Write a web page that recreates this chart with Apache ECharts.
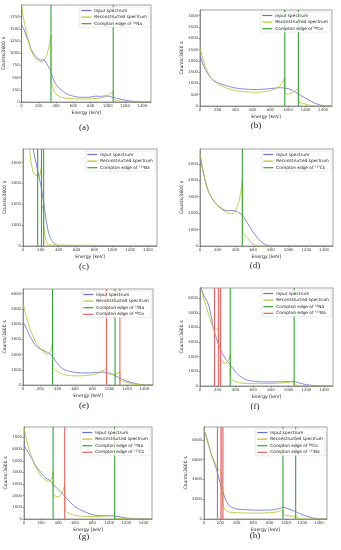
<!DOCTYPE html>
<html>
<head>
<meta charset="utf-8">
<script src="https://cdn.jsdelivr.net/npm/echarts@6/dist/echarts.min.js"></script>
<style>
html, body { margin: 0; padding: 0; background: #fff; }
#main { width: 341px; height: 550px; }
</style>
</head>
<body>
<div id="main"></div>
<script>
// edge energies (keV)
var edgesNa = [341, 1062];
var edgesCo = [963, 1118];
var edgesBa = [164, 207, 231];
var edgesCs = [477];

// (a) 22Na
var aInput = [[0,1580],[20,1520],[40,1440],[60,1330],[80,1250],[95,1180],[110,1080],[125,1040],[140,1000],[160,950],[180,900],[200,880],[220,860],[240,890],[260,870],[280,840],[300,760],[320,700],[341,620],[360,500],[390,380],[420,310],[460,250],[500,190],[540,150],[580,130],[620,110],[660,100],[700,95],[740,100],[780,95],[820,110],[860,120],[900,115],[940,120],[980,125],[1020,115],[1060,95],[1100,80],[1140,60],[1180,45],[1220,30],[1260,20],[1300,12],[1340,6],[1380,2],[1420,0],[1500,0]];
var aRecon = [[0,2000],[15,1800],[30,1650],[50,1480],[70,1330],[90,1180],[110,1060],[130,980],[150,920],[170,880],[190,850],[210,830],[230,820],[250,830],[270,870],[290,940],[310,1080],[325,1220],[341,1370],[343,420],[360,300],[380,220],[400,160],[440,110],[500,80],[600,65],[700,60],[800,65],[900,80],[960,100],[1000,130],[1030,170],[1060,230],[1064,60],[1100,30],[1150,15],[1200,5],[1300,0],[1500,0]];

// (b) 60Co
var bInput = [[0,2220],[20,2000],[40,1800],[60,1620],[80,1480],[100,1360],[130,1220],[160,1120],[200,1040],[250,960],[300,900],[350,850],[400,800],[450,770],[500,750],[550,740],[600,730],[650,730],[700,740],[750,750],[800,770],[850,790],[900,810],[950,800],[1000,770],[1050,700],[1100,580],[1150,460],[1200,340],[1250,230],[1300,130],[1350,55],[1400,10],[1450,0],[1500,0]];
var bRecon = [[0,2550],[20,2250],[40,1980],[60,1750],[80,1560],[100,1400],[130,1220],[160,1100],[200,990],[250,880],[300,800],[350,740],[400,690],[450,650],[500,630],[550,615],[600,610],[650,610],[700,620],[750,640],[800,680],[850,750],[900,860],[940,1060],[963,1270],[966,560],[990,520],[1020,540],[1060,600],[1090,680],[1118,790],[1121,180],[1150,140],[1200,80],[1250,30],[1300,5],[1350,0],[1500,0]];

// (c) 133Ba
var cInput = [[0,9000],[60,7000],[100,5200],[120,4500],[150,3900],[180,3300],[200,2900],[220,2400],[240,1800],[260,1200],[280,750],[300,450],[320,280],[340,170],[360,90],[380,30],[400,5],[420,0],[1500,0]];
var cRecon = [[0,9000],[40,6500],[70,4700],[90,4000],[110,3600],[130,3450],[150,3350],[164,3450],[180,3300],[195,3500],[207,3850],[209,2000],[220,1800],[231,1700],[233,900],[245,500],[260,200],[280,50],[300,0],[1500,0]];

// (d) 137Cs
var dInput = [[0,5500],[20,4900],[40,4400],[60,3950],[80,3550],[100,3250],[130,2950],[160,2700],[200,2450],[240,2300],[270,2200],[300,2150],[320,2200],[340,2150],[360,2200],[380,2150],[400,2150],[420,2100],[450,2000],[477,1850],[500,1700],[530,1450],[560,1180],[590,900],[620,680],[650,480],[680,310],[710,180],[740,80],[770,20],[800,0],[1500,0]];
var dRecon = [[0,5600],[20,5000],[40,4450],[60,3950],[80,3550],[100,3250],[130,2950],[160,2700],[200,2450],[240,2250],[280,2100],[320,2000],[350,1950],[380,2000],[410,2250],[440,2700],[460,3250],[477,4000],[480,800],[500,700],[530,520],[560,330],[590,160],[620,50],[650,0],[1500,0]];

// (e) 22Na + 60Co
var eInput = [[0,4100],[20,3950],[40,3700],[60,3450],[80,3200],[100,3000],[130,2700],[160,2500],[200,2350],[240,2250],[280,2150],[320,2000],[350,1800],[380,1550],[420,1250],[460,1050],[500,950],[550,870],[600,830],[650,800],[700,790],[750,790],[800,800],[850,830],[900,850],[950,830],[1000,770],[1050,650],[1100,500],[1150,370],[1200,260],[1250,170],[1300,90],[1350,35],[1400,5],[1450,0],[1500,0]];
var eRecon = [[0,5400],[20,4900],[40,4450],[60,4050],[80,3700],[100,3400],[130,3000],[160,2700],[200,2400],[240,2150],[280,2000],[300,1980],[320,2200],[341,2900],[343,1150],[380,950],[420,800],[460,700],[500,640],[550,610],[600,600],[650,600],[700,610],[750,630],[800,670],[850,740],[900,850],[940,1000],[963,1150],[966,780],[1000,720],[1030,700],[1062,720],[1065,650],[1090,750],[1118,880],[1121,300],[1150,250],[1200,170],[1250,90],[1300,40],[1350,10],[1400,0],[1500,0]];

// (f) 22Na + 133Ba
var fInput = [[0,7000],[20,6550],[50,6100],[80,5800],[100,5500],[125,4800],[150,4000],[175,3450],[205,2900],[235,2450],[262,2100],[300,1750],[340,1440],[380,1130],[414,870],[450,680],[490,520],[530,410],[580,340],[640,300],[700,280],[800,280],[900,290],[1000,300],[1062,310],[1100,240],[1150,160],[1200,90],[1250,45],[1300,18],[1350,5],[1400,0],[1500,0]];
var fRecon = [[0,7200],[20,6500],[40,6000],[60,5650],[80,5250],[100,4800],[130,4250],[150,4050],[164,3950],[180,3850],[195,3900],[207,4000],[209,3000],[220,2700],[231,2500],[233,1800],[260,1600],[290,1550],[315,1700],[330,1900],[341,2150],[343,550],[370,400],[400,300],[450,220],[500,180],[600,160],[700,160],[800,170],[900,200],[1000,250],[1040,320],[1062,400],[1065,80],[1100,50],[1150,30],[1200,10],[1300,0],[1500,0]];

// (g) 22Na + 137Cs
var gInput = [[0,6300],[25,6000],[50,5700],[75,5400],[100,5130],[130,4650],[160,4350],[200,3980],[250,3540],[300,3340],[341,2970],[400,2540],[440,2250],[477,1960],[515,1650],[550,1380],[600,1040],[650,830],[700,660],[750,500],[800,370],[850,310],[900,290],[1000,280],[1062,260],[1100,220],[1150,150],[1200,90],[1250,50],[1300,20],[1350,5],[1400,0],[1500,0]];
var gRecon = [[0,7800],[20,7100],[40,6500],[60,6000],[80,5500],[100,5100],[130,4600],[160,4150],[200,3700],[240,3400],[280,3250],[310,3300],[330,3600],[341,4050],[343,2050],[370,1950],[400,1900],[430,2050],[455,2400],[477,2900],[479,750],[510,550],[550,400],[600,300],[700,230],[800,210],[900,230],[1000,280],[1040,340],[1062,420],[1065,100],[1100,60],[1150,30],[1200,10],[1300,0],[1500,0]];

// (h) 60Co + 133Ba
var hInput = [[0,9000],[25,8400],[50,7700],[75,7000],[100,6260],[125,5700],[150,5090],[175,4300],[200,3580],[225,2900],[250,2240],[275,1750],[300,1400],[325,1250],[350,1140],[400,1000],[500,940],[600,900],[700,890],[800,900],[860,950],[920,1050],[963,1200],[1000,1120],[1050,960],[1100,800],[1150,620],[1200,420],[1250,280],[1300,170],[1350,70],[1400,10],[1450,0],[1500,0]];
var hRecon = [[0,9100],[25,8400],[50,7600],[75,6900],[100,6300],[125,5800],[150,5400],[164,5150],[185,4950],[207,4850],[220,4800],[231,4850],[233,1300],[250,1000],[275,780],[300,700],[400,640],[500,600],[600,590],[700,600],[800,640],[880,700],[930,800],[963,900],[966,400],[1000,350],[1060,300],[1118,250],[1121,80],[1160,40],[1200,10],[1300,0],[1500,0]];

var BLUE = '#6570d8';
var YELLOW = '#b3c426';
var GREEN = '#3aa23a';
var RED = '#e36464';

// one entry per subplot
var panels = [
    { tag: '(a)', rect: [19, 5, 132, 97],  ymax: 1990, yint: 250,  input: aInput, recon: aRecon,
      edges: [{ name: 'Compton edge of \u00b2\u00b2Na', color: GREEN, values: edgesNa }], cap: [84, 128] },
    { tag: '(b)', rect: [200, 10, 132, 96], ymax: 4250, yint: 500,  input: bInput, recon: bRecon,
      edges: [{ name: 'Compton edge of \u2076\u2070Co', color: GREEN, values: edgesCo }], cap: [256, 126] },
    { tag: '(c)', rect: [23, 149, 134, 97], ymax: 4650, yint: 1000, input: cInput, recon: cRecon,
      edges: [{ name: 'Compton edge of \u00b9\u00b3\u00b3Ba', color: GREEN, values: edgesBa }], cap: [84, 267] },
    { tag: '(d)', rect: [200, 149, 133, 97], ymax: 5900, yint: 1000, input: dInput, recon: dRecon,
      edges: [{ name: 'Compton edge of \u00b9\u00b3\u2077Cs', color: GREEN, values: edgesCs }], cap: [255, 266] },
    { tag: '(e)', rect: [23, 289, 130, 96], ymax: 6300, yint: 1000, input: eInput, recon: eRecon,
      edges: [{ name: 'Compton edge of \u00b2\u00b2Na', color: GREEN, values: edgesNa },
              { name: 'Compton edge of \u2076\u2070Co', color: RED, values: edgesCo }], cap: [84, 406] },
    { tag: '(f)', rect: [200, 288, 133, 98], ymax: 6700, yint: 1000, input: fInput, recon: fRecon,
      edges: [{ name: 'Compton edge of \u00b2\u00b2Na', color: GREEN, values: edgesNa },
              { name: 'Compton edge of \u00b9\u00b3\u00b3Ba', color: RED, values: edgesBa }], cap: [255, 407] },
    { tag: '(g)', rect: [24, 427, 128, 92], ymax: 7900, yint: 1000, input: gInput, recon: gRecon,
      edges: [{ name: 'Compton edge of \u00b2\u00b2Na', color: GREEN, values: edgesNa },
              { name: 'Compton edge of \u00b9\u00b3\u2077Cs', color: RED, values: edgesCs }], cap: [84, 537] },
    { tag: '(h)', rect: [204, 427, 123, 92], ymax: 9300, yint: 2000, input: hInput, recon: hRecon,
      edges: [{ name: 'Compton edge of \u2076\u2070Co', color: GREEN, values: edgesCo },
              { name: 'Compton edge of \u00b9\u00b3\u00b3Ba', color: RED, values: edgesBa, band: true }], cap: [255, 536] }
];

// plain numbers, no thousands separator
function plainLabel(v) {
    return String(v);
}

var grids = [], xAxes = [], yAxes = [], series = [], legends = [], graphics = [];

panels.forEach(function(p, i) {
    var r = p.rect;
    grids.push({ left: r[0], top: r[1], width: r[2], height: r[3], show: true,
                 borderColor: '#444', borderWidth: 0.5, backgroundColor: '#fff' });

    xAxes.push({
        gridIndex: i, type: 'value', min: 0, max: 1500, interval: 200,
        name: 'Energy [keV]', nameLocation: 'middle', nameGap: 8,
        nameTextStyle: { fontSize: 4.6, color: '#222', fontFamily: 'DejaVu Sans' },
        axisLine: { lineStyle: { color: '#444', width: 0.5 } },
        axisTick: { length: 1.5, lineStyle: { width: 0.5 } },
        axisLabel: { fontSize: 3.8, margin: 2, color: '#333', showMaxLabel: false,
                     fontFamily: 'DejaVu Sans', formatter: plainLabel },
        splitLine: { show: false }
    });
    yAxes.push({
        gridIndex: i, type: 'value', min: 0, max: p.ymax, interval: p.yint,
        name: 'Counts/3600 s', nameLocation: 'middle', nameGap: 12,
        nameTextStyle: { fontSize: 4.6, color: '#222', fontFamily: 'DejaVu Sans' },
        axisLine: { lineStyle: { color: '#444', width: 0.5 } },
        axisTick: { show: true, length: 1.5, lineStyle: { width: 0.5 } },
        axisLabel: { fontSize: 3.8, margin: 2, color: '#333', showMaxLabel: false,
                     fontFamily: 'DejaVu Sans', formatter: plainLabel },
        splitLine: { show: false }
    });

    series.push({ name: 'Input spectrum', type: 'line', xAxisIndex: i, yAxisIndex: i,
                  data: p.input, showSymbol: false, color: BLUE,
                  lineStyle: { width: 0.8, color: BLUE }, z: 2 });
    series.push({ name: 'Reconstructed spectrum', type: 'line', xAxisIndex: i, yAxisIndex: i,
                  data: p.recon, showSymbol: false, color: YELLOW,
                  lineStyle: { width: 0.8, color: YELLOW }, z: 3 });

    var legendData = [
        { name: 'Input spectrum', itemStyle: { color: BLUE } },
        { name: 'Reconstructed spectrum', itemStyle: { color: YELLOW } }
    ];
    p.edges.forEach(function(e) {
        // one vertical line series per edge, spanning the full y range
        e.values.forEach(function(v, k) {
            var s = {
                name: e.name, type: 'line', xAxisIndex: i, yAxisIndex: i,
                data: [[v, 0], [v, p.ymax]], showSymbol: false, color: e.color,
                lineStyle: { color: e.color, width: 1.1 }, z: 4
            };
            if (e.band && k == 0) {
                // pale band between the two upper Ba edges
                s.markArea = { silent: true, itemStyle: { color: 'rgba(235,110,110,0.3)' },
                               data: [[{ xAxis: e.values[1] }, { xAxis: e.values[2] }]] };
            }
            series.push(s);
        });
        legendData.push({ name: e.name, itemStyle: { color: e.color } });
    });

    legends.push({
        data: legendData, orient: 'vertical', right: 341 - (r[0] + r[2]) + 2, top: r[1] + 2,
        icon: 'rect', itemWidth: 10, itemHeight: 1.2, itemGap: 2.6,
        padding: [1.5, 2, 1.5, 2], backgroundColor: 'rgba(255,255,255,0.8)',
        borderColor: '#ccc', borderWidth: 0.4, borderRadius: 1,
        textStyle: { fontSize: 4.3, color: '#222', fontFamily: 'DejaVu Sans', padding: [0, 0, 0, -2] },
        selectedMode: false, z: 10
    });

    graphics.push({ type: 'text', x: p.cap[0], y: p.cap[1],
                    style: { text: p.tag, font: '9px "Liberation Serif"', fill: '#222',
                             textAlign: 'center', textVerticalAlign: 'middle' } });
});

var chart = echarts.init(document.getElementById('main'));
chart.setOption({
    animation: false,
    backgroundColor: '#fff',
    grid: grids,
    xAxis: xAxes,
    yAxis: yAxes,
    legend: legends,
    series: series,
    graphic: graphics
});
</script>
</body>
</html>
